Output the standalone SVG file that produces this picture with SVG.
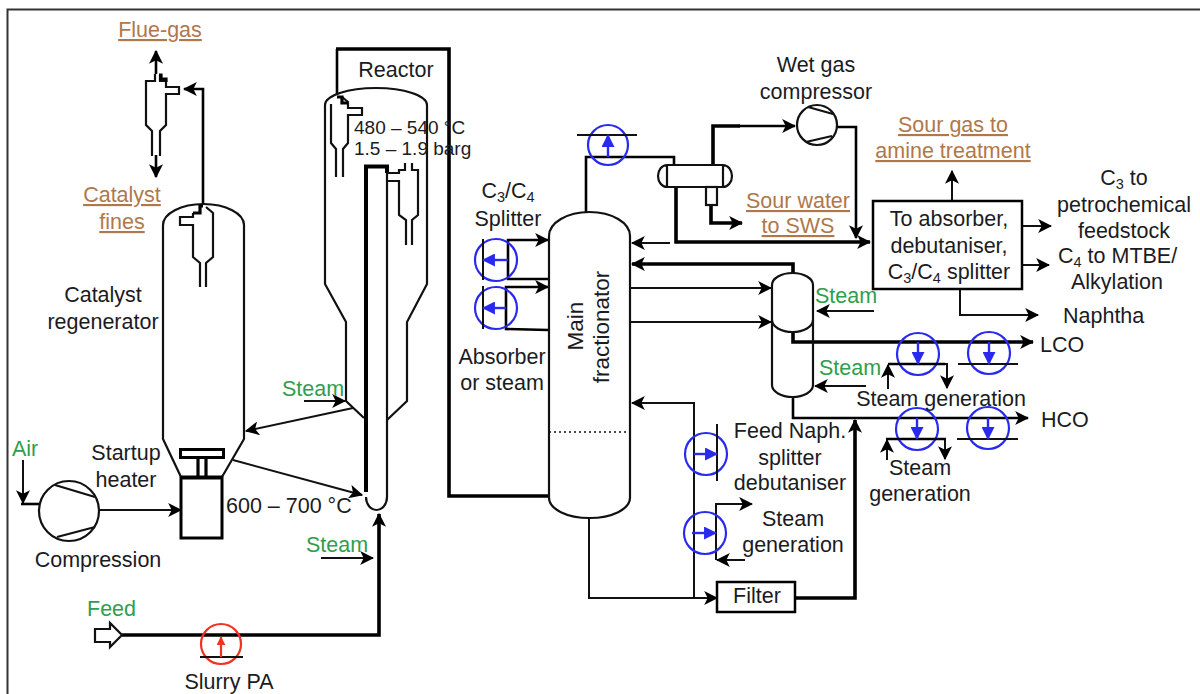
<svg xmlns="http://www.w3.org/2000/svg" width="1200" height="694" viewBox="0 0 1200 694">
<style>
text{font-family:"Liberation Sans",Arial,sans-serif;font-size:21.500px;fill:#1b1b22}
.m{text-anchor:middle}
.g{fill:#2f9e4f}
.b{fill:#b0784a;text-decoration:underline}
.sub{font-size:14.500px}
.eq{fill:none;stroke:#111;stroke-width:2.200}
.t3{fill:none;stroke:#000;stroke-width:3.200}
.c1{fill:none;stroke:#111;stroke-width:2;marker-end:url(#a)}
.c2{fill:none;stroke:#000;stroke-width:2.600;marker-end:url(#a)}
.c3{fill:none;stroke:#000;stroke-width:3.600;marker-end:url(#a)}
.pl{fill:none;stroke:#000;stroke-width:2.600}
.pt{fill:none;stroke:#000;stroke-width:3.600}
.bl{fill:none;stroke:#2a2aee;stroke-width:2.200}
.ba{fill:none;stroke:#2a2aee;stroke-width:2.400;marker-end:url(#ab)}
.blk{fill:none;stroke:#111;stroke-width:2}
.re{fill:none;stroke:#ee3322;stroke-width:2.200}
.ra{fill:none;stroke:#ee3322;stroke-width:2.200;marker-end:url(#ar)}
</style>
<defs>
<marker id="a" markerUnits="userSpaceOnUse" viewBox="0 0 12 12" markerWidth="14" markerHeight="14" refX="11" refY="6" orient="auto"><path d="M0,0L12,6L0,12L3,6z" fill="#000"/></marker>
<marker id="ab" markerUnits="userSpaceOnUse" viewBox="0 0 12 12" markerWidth="13" markerHeight="13" refX="11" refY="6" orient="auto"><path d="M0,0L12,6L0,12z" fill="#2a2aee"/></marker>
<marker id="ar" markerUnits="userSpaceOnUse" viewBox="0 0 12 12" markerWidth="9" markerHeight="9" refX="11" refY="6" orient="auto"><path d="M0,0L12,6L0,12z" fill="#ee3322"/></marker>
</defs>
<rect width="1200" height="694" fill="#fff"/>
<path id="frame" d="M7.500,694V9.500H1200" fill="none" stroke="#333" stroke-width="2"/>

<g id="connectors">
<path class="c2" d="M156,74V51"/>
<path class="c2" d="M156,155V177"/>
<path class="c2" d="M203,205V89H184"/>
<path class="pl" d="M337,95V49"/>
<path class="pt" d="M336,49H449V496H548"/>
<path class="c1" d="M304,401H345"/>
<path class="c1" d="M353,408L246,431"/>
<path class="c1" d="M233,460L362,495"/>
<path class="c1" d="M23,460V503"/>
<path class="pl" d="M21,504H39"/>
<path class="c1" d="M99,510H181"/>
<path class="c1" d="M321,558H373"/>
<path class="c3" d="M122,635H379V514"/>
<path class="pl" d="M586,212V157H674V165"/>
<path class="c3" d="M711,205V223H742"/>
<path class="pt" d="M713,165V126H740"/>
<path class="c2" d="M738,126H795"/>
<path class="c2" d="M837,127H856V238"/>
<path class="c3" d="M676,187V242H870"/>
<path class="c1" d="M670,243H632"/>
<path class="c3" d="M793,274V264H632"/>
<path class="c1" d="M630,288H771"/>
<path class="c1" d="M630,322H771"/>
<path class="c1" d="M874,311H817"/>
<path class="c3" d="M793,333V342H1033"/>
<path class="c1" d="M866,386H815"/>
<path class="c1" d="M888,389V365"/>
<path class="c1" d="M945,364H947V388"/>
<path class="c2" d="M793,397V418H1028"/>
<path class="c1" d="M887,460V440"/>
<path class="c1" d="M945,439V459"/>
<path class="c1" d="M694,598V403H632"/>
<path class="c1" d="M589,518V598H717"/>
<path class="c3" d="M795,598H855V420"/>
<path class="c1" d="M716,533V504H752"/>
<path class="blk" d="M716,533V560"/>
<path class="c1" d="M745,560H717"/>
<path class="c2" d="M508,260V240H548"/>
<path class="pl" d="M508,260V279H548"/>
<path class="c2" d="M506,308V287H548"/>
<path class="pl" d="M506,308V329L548,330"/>
<path class="c1" d="M952,200V171"/>
<path class="c1" d="M1023,226H1051"/>
<path class="c1" d="M1023,265H1049"/>
<path class="c1" d="M960,290V315H1038"/>
</g>

<g id="flue-cyclone">
<path class="eq" d="M155,74V81H146V125L152,131V156M160,156V131L166,125V94H179V87H166V81H160V75"/>
<path class="t3" d="M159,75H161V79H166V82"/>
</g>
<g id="regenerator">
<path class="eq" d="M181,477L163,439V225A40.500,21 0 0 1 244,225V439L222,477"/>
<path class="eq" d="M193,213V217H180V225H193V257L200,263V287M206,287V263L213,257V213L206,207"/>
<path class="t3" d="M193,213H200V206H203"/>
<text class="m" x="103" y="302">Catalyst</text>
<text class="m" x="103" y="329">regenerator</text>
</g>
<g id="reactor">
<path class="eq" d="M364,418L346,401V322L325,284V105A51,17 0 0 1 427,105V284L407,322V401L387,420"/>
<path class="eq" d="M331,104V143L336,149V177M343,177V149L348,143V115H362V108H348V102L342,97"/>
<path class="t3" d="M337,97H342V103H348"/>
<path style="fill:none;stroke:#000;stroke-width:4" d="M366,492V166.500H387V173"/>
<path class="eq" d="M387,173V497A10.500,13 0 0 1 366,497"/>
<path class="eq" d="M387,173H399V170H405V163M412,163V170H418V215L412,220V245M406,245V220L399,215V181H387"/>
<text class="m" x="396" y="77">Reactor</text>
<text x="354" y="134" style="font-size:19px">480 – 540 °C</text>
<text x="354" y="155" style="font-size:19px">1.5 – 1.9 barg</text>
</g>
<g id="heater">
<rect x="181" y="478" width="41" height="60" fill="#fff" stroke="#000" stroke-width="3"/>
<path class="t3" d="M181,477H222"/>
<path class="t3" d="M198,477V457M206,477V457"/>
<rect x="180.500" y="449.500" width="43" height="8" fill="#fff" stroke="#000" stroke-width="3"/>
<text class="m" x="126" y="460">Startup</text>
<text class="m" x="126" y="487">heater</text>
</g>
<g id="compressor-air">
<circle class="eq" cx="69" cy="511" r="30" fill="#fff"/>
<path class="eq" d="M55,485L95,497M57,537L95,527"/>
<text class="m" x="98" y="567">Compression</text>
</g>
<g id="feed">
<path class="eq" d="M95,629H110V623L122,635L110,647V642H95Z"/>
<text class="g" x="87" y="616">Feed</text>
</g>
<g id="slurry-pump">
<circle class="re" cx="221" cy="644" r="20"/>
<path class="blk" style="stroke-width:2" d="M200,657H243"/>
<path class="ra" d="M221,657V637"/>
<text class="m" x="229" y="689">Slurry PA</text>
</g>
<g id="main-fractionator">
<path class="eq" d="M549,236A40.500,24 0 0 1 630,236V498A40.500,20 0 0 1 549,498Z"/>
<path d="M549,432H630" fill="none" stroke="#111" stroke-width="1.500" stroke-dasharray="2 3"/>
<text class="m" style="font-size:22.500px" transform="translate(583,326) rotate(-90)">Main</text>
<text class="m" style="font-size:22.500px" transform="translate(609,327) rotate(-90)">fractionator</text>
</g>
<g id="overhead-pump">
<circle class="bl" cx="608" cy="145" r="20"/>
<path class="blk" d="M577,135H637"/>
<path class="ba" d="M608,157V135"/>
</g>
<g id="overhead-drum">
<path class="eq" d="M667,165H723M667,187H723M667,165A9,11 0 0 0 667,187M667,165V187M723,165V187M723,165A9,11 0 0 1 723,187"/>
<rect class="eq" x="706" y="187" width="11" height="18"/>
</g>
<g id="wet-gas-compressor">
<circle class="eq" cx="817" cy="125" r="20"/>
<path class="eq" d="M808,107L833,114M806,142L832,136"/>
<text class="m" x="816" y="72">Wet gas</text>
<text class="m" x="816" y="99">compressor</text>
</g>
<g id="splitter-pumps">
<circle class="bl" cx="496" cy="260" r="21"/>
<path class="blk" d="M483,239V280"/>
<path class="ba" d="M508,260H483"/>
<circle class="bl" cx="496" cy="308" r="21"/>
<path class="blk" d="M483,286V329"/>
<path class="ba" d="M506,308H483"/>
<text class="m" x="508" y="198">C<tspan class="sub" dy="4">3</tspan><tspan dy="-4">/C</tspan><tspan class="sub" dy="4">4</tspan></text>
<text class="m" x="508" y="226">Splitter</text>
<text class="m" x="502" y="364">Absorber</text>
<text class="m" x="502" y="390">or steam</text>
</g>
<g id="stripper">
<path class="eq" d="M772,285A20.500,12 0 0 1 813,285V385A20.500,12 0 0 1 772,385Z"/>
<path class="eq" d="M772,320A20.500,12 0 0 0 813,320"/>
</g>
<g id="lco-pumps">
<circle class="bl" cx="918" cy="354" r="21"/>
<path class="pl" d="M888,364H945"/>
<path class="ba" d="M918,342V364"/>
<circle class="bl" cx="989" cy="353" r="21"/>
<path class="blk" d="M958,364H1018"/>
<path class="ba" d="M989,342V364"/>
</g>
<g id="hco-pumps">
<circle class="bl" cx="917" cy="429" r="21"/>
<path class="pl" d="M886,439H946"/>
<path class="ba" d="M917,418V439"/>
<circle class="bl" cx="988" cy="428" r="21"/>
<path class="blk" d="M957,439H1018"/>
<path class="ba" d="M988,418V439"/>
</g>
<g id="bottoms-pumps">
<circle class="bl" cx="706" cy="454" r="21"/>
<path class="blk" d="M717,424V481"/>
<path class="ba" d="M694,454H717"/>
<circle class="bl" cx="705" cy="533" r="21"/>
<path class="ba" d="M692,533H716"/>
</g>
<g id="filter">
<rect x="717" y="582" width="78" height="30" fill="#fff" stroke="#000" stroke-width="2.500"/>
<text class="m" x="757" y="603">Filter</text>
</g>
<g id="absorber-box">
<rect x="873" y="201" width="149" height="88" fill="none" stroke="#000" stroke-width="2.500"/>
<text class="m" x="949" y="226">To absorber,</text>
<text class="m" x="949" y="253">debutaniser,</text>
<text class="m" x="949" y="279">C<tspan class="sub" dy="4">3</tspan><tspan dy="-4">/C</tspan><tspan class="sub" dy="4">4</tspan><tspan dy="-4"> splitter</tspan></text>
</g>
<g id="labels">
<text class="m b" x="160" y="37">Flue-gas</text>
<text class="m b" x="122" y="202">Catalyst</text>
<text class="m b" x="122" y="229">fines</text>
<text class="g" x="282" y="396">Steam</text>
<text class="g" x="12" y="456">Air</text>
<text x="226" y="513">600 – 700 °C</text>
<text class="g" x="306" y="552">Steam</text>
<text class="m b" x="798" y="208">Sour water</text>
<text class="m b" x="798" y="233">to SWS</text>
<text class="m b" x="953" y="132">Sour gas to</text>
<text class="m b" x="953" y="158">amine treatment</text>
<text class="m" x="1124" y="185">C<tspan class="sub" dy="4">3</tspan><tspan dy="-4"> to</tspan></text>
<text class="m" x="1124" y="212">petrochemical</text>
<text class="m" x="1124" y="238">feedstock</text>
<text x="1058" y="263">C<tspan class="sub" dy="4">4</tspan><tspan dy="-4"> to MTBE/</tspan></text>
<text class="m" x="1117" y="289">Alkylation</text>
<text x="1063" y="323">Naphtha</text>
<text class="g" x="815" y="303">Steam</text>
<text x="1040" y="352">LCO</text>
<text class="g" x="819" y="375">Steam</text>
<text class="m" x="941" y="406">Steam generation</text>
<text x="1041" y="427">HCO</text>
<text class="m" x="920" y="475">Steam</text>
<text class="m" x="920" y="501">generation</text>
<text class="m" x="790" y="438">Feed Naph.</text>
<text class="m" x="790" y="465">splitter</text>
<text class="m" x="790" y="490">debutaniser</text>
<text class="m" x="793" y="526">Steam</text>
<text class="m" x="793" y="552">generation</text>
</g>
</svg>
